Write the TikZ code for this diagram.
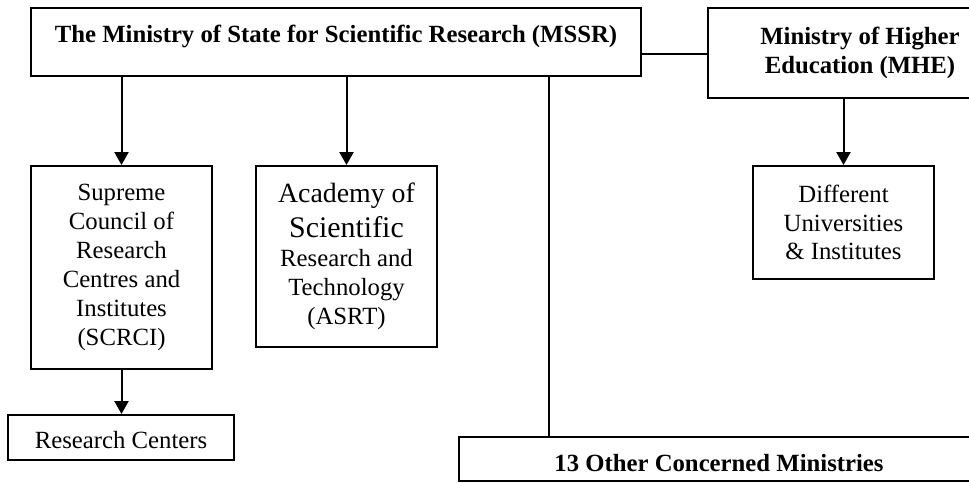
\documentclass[tikz,border=0pt]{standalone}
\usepackage{fontspec}
\setmainfont{Liberation Serif}
\usetikzlibrary{arrows.meta}
\newlength\upx
\setlength\upx{0.485pt}
\tikzset{
  box/.style={draw, line width=2\upx, inner sep=0pt, align=center,
    font=\fontsize{12}{14}\selectfont},
  conn/.style={line width=2\upx},
  arr/.style={conn, -{Triangle[width=6.8pt,length=6.3pt]}},
}
\begin{document}
\begin{tikzpicture}[x=\upx, y=-\upx]
\useasboundingbox (0,0) rectangle (969,482);
\clip (0,0) rectangle (969,482);
\node[box, font=\bfseries\fontsize{12}{14}\selectfont, minimum width=610\upx, minimum height=68\upx,
  text height=34\upx, text depth=34\upx] (mssr) at (336,42)
  {The Ministry of State for Scientific Research (MSSR)};
\node[box, font=\bfseries\fontsize{12}{14}\selectfont, minimum width=304\upx, minimum height=90\upx] (mhe) at (860,53)
  {Ministry of Higher\\Education (MHE)};
\node[box, minimum width=181\upx, minimum height=203\upx] (scrci) at (121.5,267.5)
  {Supreme\\Council of\\Research\\Centres and\\Institutes\\(SCRCI)};
\node[box, minimum width=181\upx, minimum height=181\upx] (asrt) at (346.5,256.5)
  {{\fontsize{13.5}{16}\selectfont Academy of}\\[3pt]{\fontsize{14.5}{17}\selectfont Scientific}\\Research and\\Technology\\(ASRT)};
\node[box, minimum width=226\upx, minimum height=45\upx, text height=33\upx, text depth=12\upx] (rc) at (121,437.5)
  {Research Centers};
\node[box, minimum width=181\upx, minimum height=113\upx] (diff) at (843.5,222.5)
  {Different\\Universities\\\& Institutes};
\node[box, font=\bfseries\fontsize{12}{14}\selectfont, minimum width=520\upx, minimum height=44\upx,
  text height=34\upx, text depth=10\upx] (other) at (719,459)
  {13 Other Concerned Ministries};
\coordinate (jx) at (549,0);
\coordinate (ky) at (0,54);
\draw[arr] (mssr.south -| scrci.north) -- (scrci.north);
\draw[arr] (mssr.south -| asrt.north) -- (asrt.north);
\draw[conn] (mssr.south -| jx) -- (other.north -| jx);
\draw[conn] (mssr.east |- ky) -- (mhe.west |- ky);
\draw[arr] (scrci.south) -- (rc.north -| scrci.south);
\draw[arr] (mhe.south -| diff.north) -- (diff.north);
\end{tikzpicture}
\end{document}
